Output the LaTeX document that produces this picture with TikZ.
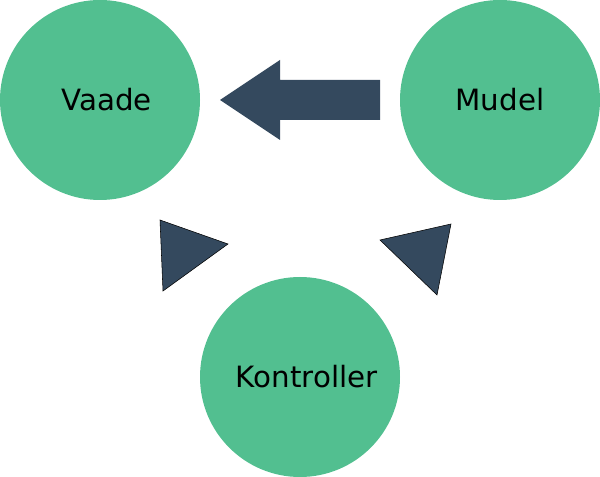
\documentclass[tikz,border=0pt]{standalone}
\usepackage{fontspec}
\setmainfont{DejaVu Sans}
\definecolor{mvcgreen}{RGB}{82,191,144}
\definecolor{mvcblue}{RGB}{52,73,94}

\begin{document}
\begin{tikzpicture}[x=0.75pt,y=-0.75pt]
            \tikzstyle{every node}+=[inner sep=0pt]
            \tikzstyle{part}=[circle,fill=mvcgreen,minimum size=150pt,font=\fontsize{22}{26}\selectfont]
            \useasboundingbox (0,0) rectangle (600,477);
            \node [part] (vaade) at (100,100) {\hspace{10pt}\raisebox{-2pt}{Vaade}};
            \node [part] (mudel) at (500,100) {\raisebox{-1pt}{Mudel}};
            \node [part] (kontroller) at (300,377) {\hspace{10pt}\raisebox{-3pt}{Kontroller}};
            % big arrow Mudel -> Vaade
            \fill [mvcblue] (380,80) -- (280,80) -- (280,60) -- (220,100) -- (280,140) -- (280,120) -- (380,120) -- cycle;
            % small heads
            \draw [black,fill=mvcblue,line width=0.4pt] (160,220) -- (228,244) -- (163,291) -- cycle;
            \draw [black,fill=mvcblue,line width=0.4pt] (380,240) -- (451,224) -- (437,295) -- cycle;
\end{tikzpicture}
\end{document}
